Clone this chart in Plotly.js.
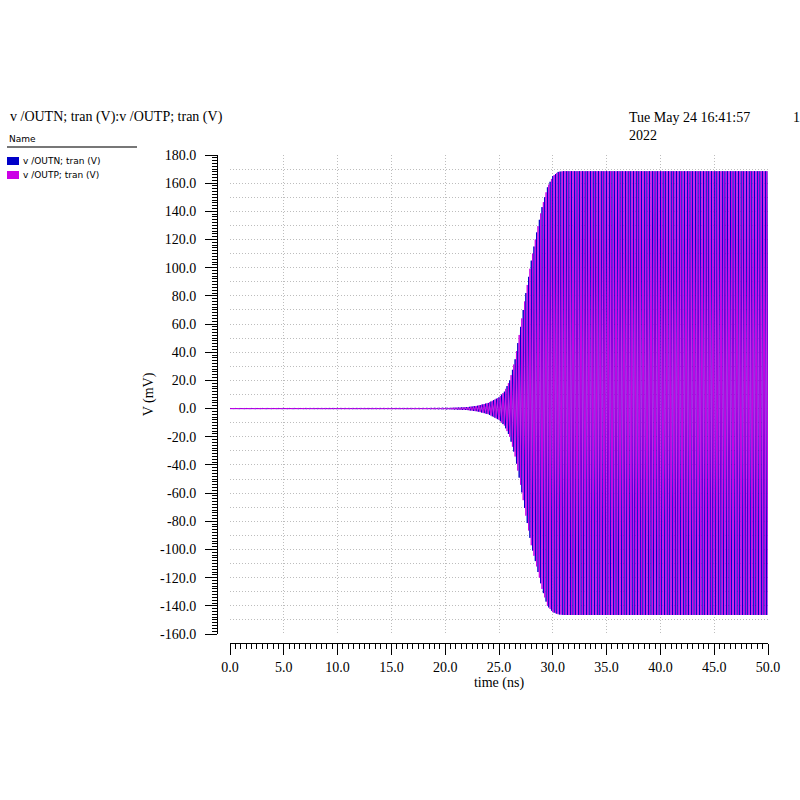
<!DOCTYPE html>
<html>
<head>
<meta charset="utf-8">
<script src="https://cdn.plot.ly/plotly-3.0.1.min.js"></script>
<style>html,body{margin:0;padding:0;background:#fff;}#chart{width:800px;height:800px;}</style>
</head>
<body>
<div id="chart"></div>
<script>
// ---- data ----
// envelope of the oscillation (ns, mV)
const envTime  = [0, 18, 20, 22, 23, 24, 25, 25.5, 26, 26.5, 27, 27.5, 28, 28.5, 29, 29.5, 30, 30.5, 31, 32, 50];
const envUpper = [0.1, 0.2, 0.4, 1, 2, 4, 8, 12, 20, 35, 58, 82, 105, 125, 143, 157, 165, 168, 168.5, 168.5, 168.5];
const envLower = [-0.1, -0.2, -0.4, -1, -2, -4, -8, -12, -20, -34, -54, -76, -97, -112, -128, -140, -144.5, -146, -146.5, -146.5, -146.5];
const oscPeriod = 0.25; // ns, estimated
const seriesNames = ['v /OUTN; tran (V)', 'v /OUTP; tran (V)'];
const xTickVals = [0, 5, 10, 15, 20, 25, 30, 35, 40, 45, 50];
const xTickLabels = ['0.0', '5.0', '10.0', '15.0', '20.0', '25.0', '30.0', '35.0', '40.0', '45.0', '50.0'];
const yTickVals = [-160, -140, -120, -100, -80, -60, -40, -20, 0, 20, 40, 60, 80, 100, 120, 140, 160, 180];
const yTickLabels = ['-160.0', '-140.0', '-120.0', '-100.0', '-80.0', '-60.0', '-40.0', '-20.0', '0.0', '20.0', '40.0', '60.0', '80.0', '100.0', '120.0', '140.0', '160.0', '180.0'];

function envAt(arr, t) {
  for (let i = 1; i < envTime.length; i++) {
    if (t <= envTime[i]) {
      const f = (t - envTime[i - 1]) / (envTime[i] - envTime[i - 1]);
      return arr[i - 1] + f * (arr[i] - arr[i - 1]);
    }
  }
  return arr[arr.length - 1];
}
function wave(phase) {
  const xs = [], ys = [];
  const half = oscPeriod / 2;
  let k = 0;
  for (let t = 0; t <= 50 + 1e-9; t += half, k++) {
    xs.push(t);
    const up = ((k + phase) % 2) === 0;
    ys.push(up ? envAt(envUpper, t) : envAt(envLower, t));
  }
  return {xs, ys};
}
const wN = wave(0), wP = wave(1);

// pixel helpers for the paper area (217..768 x 155..643)
const PL = 217, PR = 768, PT = 155, PB = 643;
const px = v => (v - PL) / (PR - PL);
const py = v => (PB - v) / (PB - PT);

const blue = '#0000c8', mag = '#cc00e6';
const serif = 'Liberation Serif, serif';
const sans = 'DejaVu Sans, sans-serif';

const traces = [
  {x: wN.xs, y: wN.ys, type: 'scatter', mode: 'lines', line: {color: blue, width: 1}, name: seriesNames[0], hoverinfo: 'skip'},
  {x: wP.xs, y: wP.ys, type: 'scatter', mode: 'lines', line: {color: mag, width: 1}, name: seriesNames[1], hoverinfo: 'skip'},
  {x: [], y: [], xaxis: 'x2', yaxis: 'y2', type: 'scatter', showlegend: false}
];

const gridStyle = {showgrid: true, gridcolor: '#bdbdbd', griddash: '1px,2px', gridwidth: 1};

const layout = {
  width: 800, height: 800,
  margin: {l: PL, r: 800 - PR, t: PT, b: 800 - PB, pad: 0},
  paper_bgcolor: '#fff', plot_bgcolor: 'rgba(0,0,0,0)',
  showlegend: false,
  xaxis: Object.assign({domain: [px(230), 1], range: [0, 50], tick0: 0, dtick: 5,
          showticklabels: false, ticks: '', zeroline: false, showline: false}, gridStyle),
  yaxis: Object.assign({domain: [py(634), 1], range: [-160, 180], tick0: 0, dtick: 10,
          showticklabels: false, ticks: '', zeroline: false, showline: false}, gridStyle),
  xaxis2: {overlaying: 'x', anchor: 'free', position: 0, range: [0, 50], showgrid: false, zeroline: false,
           showline: true, linecolor: '#000', linewidth: 1,
           tickmode: 'array', tickvals: xTickVals, ticktext: xTickLabels,
           ticks: 'outside', ticklen: 11, tickcolor: '#000', tickwidth: 1,
           minor: {tickmode: 'linear', tick0: 0, dtick: 0.5, ticks: 'outside', ticklen: 5, tickcolor: '#000', tickwidth: 1, showgrid: false},
           tickfont: {family: serif, size: 14, color: '#000'},
           title: {text: 'time (ns)', font: {family: serif, size: 14, color: '#000'}, standoff: 2}},
  yaxis2: {overlaying: 'y', anchor: 'free', position: 0, range: [-160, 180], showgrid: false, zeroline: false,
           showline: true, linecolor: '#000', linewidth: 1,
           tickmode: 'array', tickvals: yTickVals, ticktext: yTickLabels,
           ticks: 'outside', ticklen: 12, tickcolor: '#000', tickwidth: 1, ticklabelstandoff: 6,
           minor: {tickmode: 'linear', tick0: 0, dtick: 2, ticks: 'outside', ticklen: 5, tickcolor: '#000', tickwidth: 1, showgrid: false},
           tickfont: {family: serif, size: 14, color: '#000'},
           title: {text: 'V (mV)', font: {family: serif, size: 14, color: '#000'}, standoff: 2}},
  shapes: [
    {type: 'line', xref: 'paper', yref: 'paper', x0: px(7), x1: px(137), y0: py(147), y1: py(147), line: {color: '#777', width: 2}},
    {type: 'rect', xref: 'paper', yref: 'paper', x0: px(7), x1: px(19), y0: py(157), y1: py(165), fillcolor: blue, line: {width: 0}},
    {type: 'rect', xref: 'paper', yref: 'paper', x0: px(7), x1: px(19), y0: py(171), y1: py(179), fillcolor: mag, line: {width: 0}}
  ],
  annotations: [
    {xref: 'paper', yref: 'paper', x: px(8), y: py(117), xanchor: 'left', yanchor: 'middle', showarrow: false,
     text: 'v /OUTN; tran (V):v /OUTP; tran (V)', font: {family: serif, size: 14, color: '#000'}},
    {xref: 'paper', yref: 'paper', x: px(627), y: py(108), xanchor: 'left', yanchor: 'top', align: 'left', showarrow: false,
     text: 'Tue May 24 16:41:57<br>2022', font: {family: serif, size: 14, color: '#000'}},
    {xref: 'paper', yref: 'paper', x: px(791), y: py(117), xanchor: 'left', yanchor: 'middle', showarrow: false,
     text: '1', font: {family: serif, size: 14, color: '#000'}},
    {xref: 'paper', yref: 'paper', x: px(7), y: py(139), xanchor: 'left', yanchor: 'middle', showarrow: false,
     text: 'Name', font: {family: sans, size: 9, color: '#000'}},
    {xref: 'paper', yref: 'paper', x: px(21), y: py(161), xanchor: 'left', yanchor: 'middle', showarrow: false,
     text: seriesNames[0], font: {family: sans, size: 9, color: '#000'}},
    {xref: 'paper', yref: 'paper', x: px(21), y: py(175), xanchor: 'left', yanchor: 'middle', showarrow: false,
     text: seriesNames[1], font: {family: sans, size: 9, color: '#000'}}
  ]
};

Plotly.newPlot('chart', traces, layout, {displayModeBar: false, staticPlot: true});
</script>
</body>
</html>
